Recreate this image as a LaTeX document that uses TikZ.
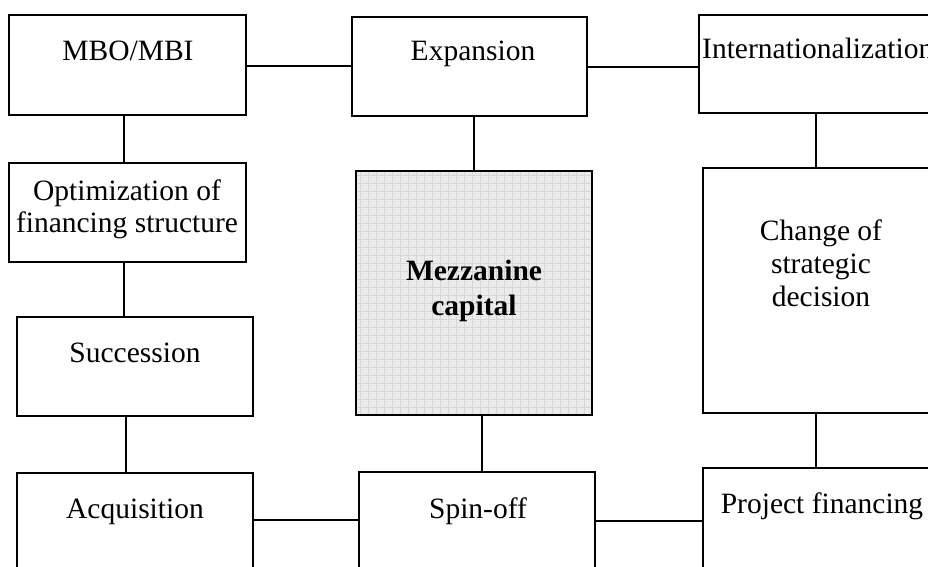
\documentclass[tikz,border=0pt]{standalone}
\usepackage{fontspec}
\setmainfont{Liberation Serif}
\begin{document}
\begin{tikzpicture}[x=1pt,y=-1pt,
  boxline/.style={line width=1.6pt},
  conn/.style={line width=1.6pt},
  lbl/.style={inner sep=0pt, font=\fontsize{29.5}{34}\selectfont, anchor=base}]
\useasboundingbox (0,0) rectangle (928,566);
\fill[white] (0,0) rectangle (928,566);
\clip (0,0) rectangle (928,566);
% box corners
\coordinate (mboA) at (9,15);   \coordinate (mboB) at (246,115);
\coordinate (expA) at (352,17); \coordinate (expB) at (587,116);
\coordinate (intA) at (699,15); \coordinate (intB) at (940,113);
\coordinate (optA) at (9,163);  \coordinate (optB) at (246,262);
\coordinate (mezA) at (356,171);\coordinate (mezB) at (592,415);
\coordinate (chgA) at (703,168);\coordinate (chgB) at (940,413);
\coordinate (sucA) at (17,317); \coordinate (sucB) at (253,416);
\coordinate (acqA) at (17,473); \coordinate (acqB) at (253,580);
\coordinate (spnA) at (359,472);\coordinate (spnB) at (595,580);
\coordinate (prjA) at (703,468);\coordinate (prjB) at (940,580);
% mezzanine fill with fine grid
\begin{scope}
\clip (mezA) rectangle (mezB);
\fill[gray!16] (mezA) rectangle (mezB);
\foreach \gx in {360,368,...,592} \draw[gray!32, line width=0.5pt] (\gx,171) -- (\gx,415);
\foreach \gy in {175,183,...,415} \draw[gray!32, line width=0.5pt] (356,\gy) -- (592,\gy);
\end{scope}
% boxes
\foreach \b in {mbo,exp,int,opt,mez,chg,suc,acq,spn,prj}
  \draw[boxline] (\b A) rectangle (\b B);
% connectors
\draw[conn] (246,66) -- (352,66);
\draw[conn] (587,67) -- (699,67);
\draw[conn] (124,115) -- (124,163);
\draw[conn] (124,262) -- (124,317);
\draw[conn] (126,416) -- (126,473);
\draw[conn] (474,116) -- (474,171);
\draw[conn] (482,415) -- (482,472);
\draw[conn] (816,113) -- (816,168);
\draw[conn] (816,413) -- (816,468);
\draw[conn] (253,520) -- (359,520);
\draw[conn] (595,521) -- (703,521);
% labels
\node[lbl] (tmbo) at (128,60) {MBO/MBI};
\node[lbl] (texp) at (473,60) {Expansion};
\node[lbl, anchor=base west] (tint) at (702,58) {Internationalization};
\node[lbl] (topt1) at (127,200) {Optimization of};
\node[lbl] (topt2) at (127,232) {financing structure};
\node[lbl, font=\fontsize{29.5}{34}\selectfont\bfseries] (tmez1) at (474,280) {Mezzanine};
\node[lbl, font=\fontsize{29.5}{34}\selectfont\bfseries] (tmez2) at (474,315) {capital};
\node[lbl] (tchg1) at (821,240) {Change of};
\node[lbl] (tchg2) at (821,273) {strategic};
\node[lbl] (tchg3) at (821,306) {decision};
\node[lbl] (tsuc) at (135,362) {Succession};
\node[lbl] (tacq) at (135,518) {Acquisition};
\node[lbl] (tspn) at (478,518) {Spin-off};
\node[lbl] (tprj) at (822,513) {Project financing};
\end{tikzpicture}
\end{document}
